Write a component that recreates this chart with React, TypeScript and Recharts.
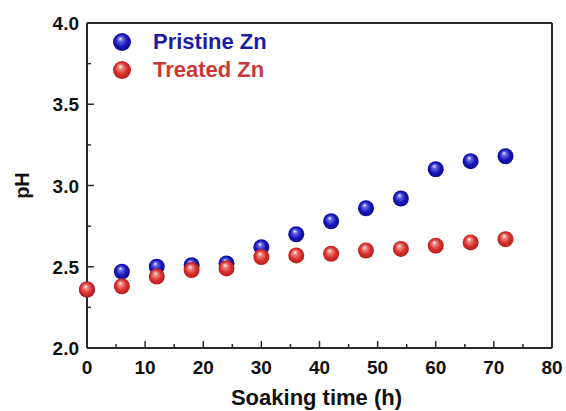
import { ScatterChart, Scatter, XAxis, YAxis, ReferenceLine, Legend } from "recharts";

const hours = [0, 6, 12, 18, 24, 30, 36, 42, 48, 54, 60, 66, 72];
const pristinePH = [2.36, 2.47, 2.5, 2.51, 2.52, 2.62, 2.7, 2.78, 2.86, 2.92, 3.1, 3.15, 3.18];
const treatedPH = [2.36, 2.38, 2.44, 2.48, 2.49, 2.56, 2.57, 2.58, 2.6, 2.61, 2.63, 2.65, 2.67];
const xTicks = [0, 5, 10, 15, 20, 25, 30, 35, 40, 45, 50, 55, 60, 65, 70, 75, 80];
const yTicks = [2, 2.25, 2.5, 2.75, 3, 3.25, 3.5, 3.75, 4];

const pristine = hours.map((h, i) => ({ x: h, y: pristinePH[i] }));
const treated = hours.map((h, i) => ({ x: h, y: treatedPH[i] }));

const FONT = "'Liberation Sans', Arial, sans-serif";
const AXIS = "#2a2a2a";

const Ball = ({ cx, cy, grad }: any) => (
  <circle cx={cx} cy={cy} r={8} fill={`url(#${grad})`} />
);

const XTick = ({ x, y, payload }: any) => {
  const v = payload.value;
  const major = v % 10 === 0;
  return (
    <g>
      <line x1={x} x2={x} y1={y} y2={y - (major ? 7 : 4)} stroke={AXIS} strokeWidth={1.5} />
      {major && (
        <text x={x} y={y + 26} textAnchor="middle" fontFamily={FONT} fontWeight="bold" fontSize={19} fill="#111">
          {v}
        </text>
      )}
    </g>
  );
};

const YTick = ({ x, y, payload }: any) => {
  const v = payload.value;
  const major = Math.abs(v * 2 - Math.round(v * 2)) < 1e-6;
  return (
    <g>
      <line x1={x} x2={x + (major ? 7 : 4)} y1={y} y2={y} stroke={AXIS} strokeWidth={1.5} />
      {major && (
        <text x={x - 8} y={y + 7} textAnchor="end" fontFamily={FONT} fontWeight="bold" fontSize={19} fill="#111">
          {v.toFixed(1)}
        </text>
      )}
    </g>
  );
};

const legendItems = [
  { name: "Pristine Zn", grad: "gBlue", color: "#1d1ca6" },
  { name: "Treated Zn", grad: "gRed", color: "#c93a36" },
];

const LegendBox = () => (
  <div style={{ fontFamily: FONT, fontWeight: "bold", fontSize: 22 }}>
    {legendItems.map((it) => (
      <div key={it.name} style={{ display: "flex", alignItems: "center", height: 28 }}>
        <svg width={20} height={20} style={{ marginRight: 21 }}>
          <circle cx={10} cy={10} r={9} fill={`url(#${it.grad})`} />
        </svg>
        <span style={{ color: it.color }}>{it.name}</span>
      </div>
    ))}
  </div>
);

export default function App() {
  return (
    <div style={{ position: "absolute", left: 0, top: 0, width: 566, height: 411, background: "#fff" }}>
      <svg width={0} height={0} style={{ position: "absolute" }}>
        <defs>
          <radialGradient id="gBlue" cx="50%" cy="50%" r="55%" fx="40%" fy="30%">
            <stop offset="0%" stopColor="#ffffff" />
            <stop offset="22%" stopColor="#6a6ae6" />
            <stop offset="60%" stopColor="#1616bb" />
            <stop offset="100%" stopColor="#0a0a86" />
          </radialGradient>
          <radialGradient id="gRed" cx="50%" cy="50%" r="55%" fx="40%" fy="30%">
            <stop offset="0%" stopColor="#ffffff" />
            <stop offset="22%" stopColor="#f08a84" />
            <stop offset="60%" stopColor="#d8302c" />
            <stop offset="100%" stopColor="#b01a18" />
          </radialGradient>
        </defs>
      </svg>
      <ScatterChart width={566} height={411} margin={{ top: 23, right: 14, bottom: 0, left: 0 }}>
        <XAxis
          type="number"
          dataKey="x"
          domain={[0, 80]}
          ticks={xTicks}
          interval={0}
          height={63}
          tickSize={0}
          tickMargin={0}
          tickLine={false}
          tick={<XTick />}
          axisLine={{ stroke: AXIS, strokeWidth: 2 }}
          label={({ viewBox }: any) => (
            <text
              x={viewBox.x + viewBox.width / 2 - 3}
              y={405}
              textAnchor="middle"
              fontFamily={FONT}
              fontWeight="bold"
              fontSize={22}
              fill="#111"
            >
              Soaking time (h)
            </text>
          )}
        />
        <YAxis
          type="number"
          dataKey="y"
          domain={[2, 4]}
          ticks={yTicks}
          interval={0}
          width={87}
          tickSize={0}
          tickMargin={0}
          tickLine={false}
          tick={<YTick />}
          axisLine={{ stroke: AXIS, strokeWidth: 2 }}
          label={({ viewBox }: any) => {
            const cx = 22;
            const cy = viewBox.y + viewBox.height / 2;
            return (
              <text
                x={cx}
                y={cy}
                transform={`rotate(-90 ${cx} ${cy})`}
                textAnchor="middle"
                dominantBaseline="central"
                fontFamily={FONT}
                fontWeight="bold"
                fontSize={20}
                fill="#111"
              >
                pH
              </text>
            );
          }}
        />
        <ReferenceLine y={4} stroke={AXIS} strokeWidth={2} />
        <ReferenceLine x={80} stroke={AXIS} strokeWidth={2} />
        <Legend
          verticalAlign="middle"
          align="center"
          layout="vertical"
          content={<LegendBox />}
          wrapperStyle={{ position: "absolute", left: 112, top: 28, width: 240 }}
        />
        <Scatter name="Pristine Zn" data={pristine} isAnimationActive={false} shape={(p: any) => <Ball {...p} grad="gBlue" />} />
        <Scatter name="Treated Zn" data={treated} isAnimationActive={false} shape={(p: any) => <Ball {...p} grad="gRed" />} />
      </ScatterChart>
    </div>
  );
}
